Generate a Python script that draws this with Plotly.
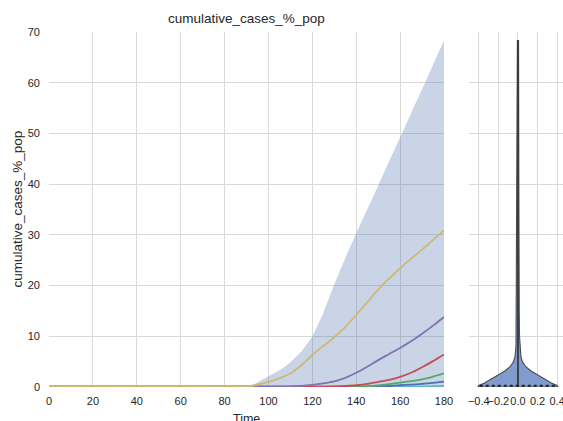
import plotly.graph_objects as go

# ---- data ----
time = [0, 10, 20, 30, 40, 50, 60, 70, 80, 85, 90, 92, 95, 100, 105, 110, 115, 120, 125, 130,
        135, 140, 145, 150, 155, 160, 165, 170, 175, 180]
n0 = 11  # points before outbreak (0..90)
band_upper = [0.1] * n0 + [0.3, 0.9, 2.1, 3.3, 4.9, 7.0, 10.0, 14.6, 20.2, 25.4, 30.3, 35.0, 39.7,
                           44.5, 49.2, 54.0, 58.7, 63.5, 68.3]
band_lower = [0.0] * len(time)
s_yellow = [0.1] * n0 + [0.2, 0.45, 1.0, 1.7, 2.7, 4.3, 6.3, 8.1, 9.8, 11.8, 14.2, 16.7, 19.2,
                         21.4, 23.4, 25.3, 27.1, 29.0, 30.9]
s_purple = [0.05] * n0 + [0.05, 0.05, 0.05, 0.05, 0.1, 0.2, 0.4, 0.7, 1.1, 1.8, 2.8, 4.0, 5.3,
                          6.5, 7.7, 9.0, 10.5, 12.1, 13.8]
s_red = [0.05] * n0 + [0.05, 0.05, 0.05, 0.05, 0.05, 0.05, 0.05, 0.07, 0.1, 0.2, 0.35, 0.6, 1.0,
                       1.4, 2.0, 2.8, 3.9, 5.1, 6.4]
s_green = [0.05] * n0 + [0.05, 0.05, 0.05, 0.05, 0.05, 0.05, 0.05, 0.05, 0.05, 0.07, 0.1, 0.15,
                         0.3, 0.55, 0.85, 1.15, 1.5, 2.05, 2.7]
s_blue = [0.03] * n0 + [0.03, 0.03, 0.03, 0.03, 0.03, 0.03, 0.03, 0.03, 0.03, 0.04, 0.05, 0.07,
                        0.1, 0.2, 0.35, 0.45, 0.6, 0.8, 1.05]
s_cyan = [0.02] * n0 + [0.02] * 13 + [0.04, 0.06, 0.08, 0.1, 0.15, 0.2]

series = [
    ("cyan", s_cyan, "#64B5CD"),
    ("blue", s_blue, "#4C72B0"),
    ("green", s_green, "#55A868"),
    ("red", s_red, "#C44E52"),
    ("purple", s_purple, "#8172B2"),
    ("yellow", s_yellow, "#CCB974"),
]

# violin (distribution of final values): half-width vs value
violin_y = [0, 0.3, 0.8, 1.4, 2.0, 2.6, 3.2, 4.0, 5.0, 6.0, 8.0, 10, 15, 20, 30, 40, 50, 60, 68.3]
violin_hw = [0.41, 0.40, 0.34, 0.29, 0.24, 0.18, 0.13, 0.08, 0.045, 0.03, 0.02, 0.016, 0.013,
             0.011, 0.01, 0.009, 0.008, 0.007, 0.006]
violin_max = 68.3

yticks = [0, 10, 20, 30, 40, 50, 60, 70]
xticks = [0, 20, 40, 60, 80, 100, 120, 140, 160, 180]
vticks = [-0.4, -0.2, 0.0, 0.2, 0.4]

TXT = "#262626"
GRID = "#d9d9d9"
FONT = "Liberation Sans, Arial, sans-serif"

fig = go.Figure()

# band
fig.add_trace(go.Scatter(x=time, y=band_lower, mode="lines", line=dict(width=0),
                         showlegend=False, hoverinfo="skip", xaxis="x", yaxis="y"))
fig.add_trace(go.Scatter(x=time, y=band_upper, mode="lines",
                         line=dict(width=0, shape="spline", smoothing=0.5),
                         fill="tonexty", fillcolor="rgba(76,114,176,0.3)",
                         showlegend=False, hoverinfo="skip", xaxis="x", yaxis="y"))
for name, vals, col in series:
    fig.add_trace(go.Scatter(x=time, y=vals, mode="lines", name=name,
                             line=dict(color=col, width=1.8, shape="spline", smoothing=0.6),
                             showlegend=False, xaxis="x", yaxis="y"))

# violin shape
vx = violin_hw + [-w for w in violin_hw[::-1]]
vy = violin_y + violin_y[::-1]
fig.add_trace(go.Scatter(x=vx + [vx[0]], y=vy + [vy[0]], mode="lines", fill="toself",
                         fillcolor="#809cce", line=dict(color="#4a4a4a", width=1.1),
                         showlegend=False, hoverinfo="skip", xaxis="x2", yaxis="y2"))
fig.add_trace(go.Scatter(x=[0, 0], y=[0, violin_max], mode="lines",
                         line=dict(color="#3a3a3a", width=1.8),
                         showlegend=False, hoverinfo="skip", xaxis="x2", yaxis="y2"))
fig.add_trace(go.Scatter(x=[-0.39, 0.39], y=[0.25, 0.25], mode="lines",
                         line=dict(color="#222222", width=1.8, dash="dot"),
                         showlegend=False, hoverinfo="skip", xaxis="x2", yaxis="y2"))

axis_common = dict(showgrid=True, gridcolor=GRID, gridwidth=1, zeroline=False,
                   showline=False, ticks="", automargin=False, ticklabeloverflow="allow",
                   tickfont=dict(family=FONT, size=11, color=TXT))

W, H = 563, 421
ml, mr, mt, mb = 49, 0, 32, 34
pw = W - ml - mr

fig.update_layout(
    width=W, height=H,
    margin=dict(l=ml, r=mr, t=mt, b=mb),
    paper_bgcolor="white", plot_bgcolor="white",
    font=dict(family=FONT, color=TXT),
    xaxis=dict(domain=[0, 395 / pw], range=[0, 180], tickvals=xticks, tickangle=0,
               ticklabelstandoff=6, **axis_common),
    yaxis=dict(range=[0, 70], tickvals=yticks, ticklabelstandoff=8, **axis_common),
    xaxis2=dict(domain=[420 / pw, 1], range=[-0.5, 0.46], tickvals=vticks, tickangle=0,
                ticklabelstandoff=6, tickformat=".1f", anchor="y2", **axis_common),
    yaxis2=dict(range=[0, 70], tickvals=yticks, showticklabels=False, anchor="x2",
                **{k: v for k, v in axis_common.items() if k != "tickfont"}),
    annotations=[
        dict(text="cumulative_cases_%_pop", xref="x domain", yref="paper", x=0.5, y=1,
             yshift=4, xanchor="center", yanchor="bottom", showarrow=False,
             font=dict(size=13.5, family=FONT, color=TXT)),
        dict(text="cumulative_cases_%_pop", xref="paper", yref="y domain", x=0, y=0.5,
             xshift=-32, xanchor="center", yanchor="middle", textangle=-90, showarrow=False,
             font=dict(size=13.5, family=FONT, color=TXT)),
        dict(text="Time", xref="x domain", yref="paper", x=0.5, y=0, yshift=-23,
             xanchor="center", yanchor="top", showarrow=False,
             font=dict(size=12.5, family=FONT, color=TXT)),
    ],
)

fig.write_html("out.html")
